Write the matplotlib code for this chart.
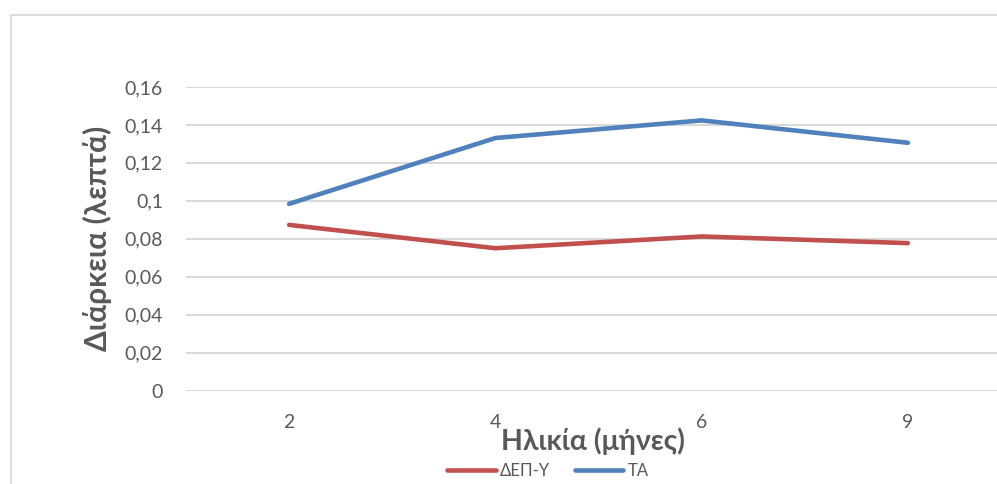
import matplotlib.pyplot as plt
from matplotlib.patches import Rectangle
from matplotlib.ticker import FuncFormatter

# %% data
months = ['2', '4', '6', '9']
dep_y = [0.0873, 0.0750, 0.0812, 0.0777]   # ΔΕΠ-Υ
ta = [0.0984, 0.1331, 0.1424, 0.1306]      # ΤΑ
yticks = [0, 0.02, 0.04, 0.06, 0.08, 0.1, 0.12, 0.14, 0.16]

red = '#c0504d'
blue = '#4f81bd'
grey_txt = '#595959'
grid_col = '#d9d9d9'

plt.rcParams['font.family'] = ['Lato', 'DejaVu Sans']

W, H = 997, 484
fig = plt.figure(figsize=(W / 100, H / 100), dpi=100)

# plot area in pixel terms, right edge runs past the canvas
left, right, top, bottom = 186, 1011, 87, 390.5
ax = fig.add_axes([left / W, 1 - bottom / H, (right - left) / W, (bottom - top) / H])

x = range(len(months))
ax.plot(x, dep_y, color=red, lw=3.3, solid_capstyle='round', solid_joinstyle='round', label='ΔΕΠ-Υ')
ax.plot(x, ta, color=blue, lw=3.3, solid_capstyle='round', solid_joinstyle='round', label='ΤΑ')

ax.set_xlim(-0.5, len(months) - 0.5)
ax.set_ylim(0, 0.16)
ax.set_yticks(yticks)
ax.yaxis.set_major_formatter(FuncFormatter(lambda v, p: ('%g' % round(v, 2)).replace('.', ',')))
ax.set_xticks(list(x))
ax.set_xticklabels(months)
ax.tick_params(length=0, labelsize=14, colors=grey_txt)
ax.tick_params(axis='y', pad=16.5)
ax.tick_params(axis='x', pad=17)
ax.grid(axis='y', color=grid_col, lw=1.5)
ax.set_axisbelow(True)
for s in ax.spines.values():
    s.set_visible(False)

# axis titles
fig.text(593 / W, 1 - 441 / H, 'Ηλικία (μήνες)', ha='center', va='center',
         fontsize=20.5, fontweight='bold', color=grey_txt)
fig.text(97 / W, 1 - 238 / H, 'Διάρκεια (λεπτά)', ha='center', va='center', rotation=90,
         fontsize=21.5, fontweight='bold', color=grey_txt)

# legend at the bottom
leg = fig.legend(loc='center', bbox_to_anchor=(548 / W, 1 - 471 / H), ncol=2, frameon=False,
                 fontsize=12, handlelength=2.9, handletextpad=0.25, columnspacing=1.5)
for t in leg.get_texts():
    t.set_color(grey_txt)

# chart border
fig.add_artist(Rectangle((10.5 / W, -0.5), 2, 1.5 - 14.5 / H, transform=fig.transFigure,
                         fill=False, edgecolor=grid_col, lw=1.3))

fig.savefig('out.png', dpi=100)
